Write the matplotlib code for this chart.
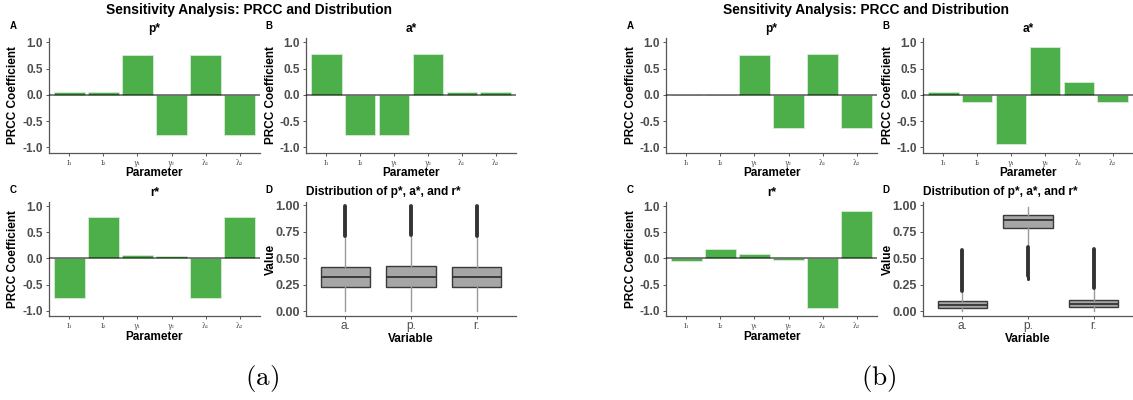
import matplotlib
matplotlib.use("Agg")
import matplotlib.pyplot as plt

plt.rcParams["font.family"] = ["Liberation Sans", "DejaVu Sans"]
plt.rcParams["mathtext.fontset"] = "cm"

# ---------------- data ----------------
params = ["I\u2081", "I\u2082", "\u03b3\u2081", "\u03b3\u2082", "\u03bb\u2081", "\u03bb\u2082"]
variables = ["a.", "p.", "r."]

# PRCC coefficients, scenario (a)
prcc_a_p = [0.06, 0.05, 0.77, -0.77, 0.77, -0.77]
prcc_a_a = [0.78, -0.77, -0.77, 0.78, 0.06, 0.06]
prcc_a_r = [-0.76, 0.79, 0.06, 0.05, -0.76, 0.79]

# PRCC coefficients, scenario (b)
prcc_b_p = [0.004, 0.003, 0.76, -0.63, 0.78, -0.63]
prcc_b_a = [0.06, -0.13, -0.94, 0.91, 0.25, -0.13]
prcc_b_r = [-0.04, 0.18, 0.08, -0.03, -0.95, 0.92]

# Box summaries of a*, p*, r* (order: a., p., r.), scenario (a)
dist_a_whislo = [0.0, 0.0, 0.0]
dist_a_q1 = [0.226, 0.227, 0.226]
dist_a_med = [0.318, 0.320, 0.319]
dist_a_q3 = [0.419, 0.421, 0.420]
dist_a_whishi = [0.707, 0.711, 0.709]
dist_a_out_lo = [0.712, 0.715, 0.713]
dist_a_out_hi = [0.995, 0.990, 0.992]

# Box summaries, scenario (b)
dist_b_whislo = [0.002, 0.605, 0.003]
dist_b_q1 = [0.031, 0.786, 0.034]
dist_b_med = [0.056, 0.863, 0.062]
dist_b_q3 = [0.093, 0.907, 0.106]
dist_b_whishi = [0.185, 0.985, 0.212]
dist_b_out_lo = [0.190, 0.330, 0.216]
dist_b_out_hi = [0.575, 0.603, 0.590]
dist_b_sparse = [[], [0.300, 0.308, 0.316, 0.322], []]

# ---------------- styling ----------------
W, H = 1133, 400
GREEN = "#4DAF4A"
GREY_TXT = "#4D4D4D"
AX_COL = "#555555"

fig = plt.figure(figsize=(W / 100, H / 100), dpi=100)


def add_ax(x0, y0, x1, y1):
    return fig.add_axes([x0 / W, 1 - y1 / H, (x1 - x0) / W, (y1 - y0) / H])


def style_axes(ax):
    for s in ("top", "right"):
        ax.spines[s].set_visible(False)
    for s in ("left", "bottom"):
        ax.spines[s].set_color(AX_COL)
        ax.spines[s].set_linewidth(0.9)
    ax.tick_params(axis="both", length=2.5, width=0.7, color=AX_COL, pad=2)


def place_labels(ax, box, xlabel, ylabel, ylab_x, xlab_y):
    x0, y0, x1, y1 = box
    ax.set_xlabel(xlabel, fontsize=8.5, fontweight="bold", va="center")
    ax.xaxis.set_label_coords(0.5, (y1 - xlab_y) / (y1 - y0))
    ax.set_ylabel(ylabel, fontsize=8.5, fontweight="bold", va="center")
    ax.yaxis.set_label_coords((ylab_x - x0) / (x1 - x0), 0.5)


def prcc_panel(box, values, title, tag, tag_xy, ylab_x, xlab_y):
    ax = add_ax(*box)
    style_axes(ax)
    pos = list(range(len(params)))
    ax.bar(pos, values, width=0.9, color=GREEN, edgecolor="#d5ecd4", linewidth=0.6, zorder=2)
    ax.axhline(0, color="black", alpha=0.55, linewidth=1.3, zorder=3)
    ax.set_xlim(-0.6, len(params) - 0.4)
    ax.set_ylim(-1.105, 1.085)
    ax.set_yticks([-1.0, -0.5, 0.0, 0.5, 1.0])
    ax.set_yticklabels(["-1.0", "-0.5", "0.0", "0.5", "1.0"])
    ax.set_xticks(pos)
    ax.set_xticklabels(params, fontfamily="DejaVu Serif", fontsize=5, color=GREY_TXT)
    for t in ax.get_yticklabels():
        t.set_fontsize(8.5)
        t.set_fontweight("bold")
        t.set_color(GREY_TXT)
    x0, y0, x1, y1 = box
    fig.text((x0 + x1) / 2 / W, 1 - (y0 - 9) / H, title, ha="center", va="center",
             fontsize=8.6, fontweight="bold")
    fig.text(tag_xy[0] / W, 1 - tag_xy[1] / H, tag, ha="center", va="center",
             fontsize=7, fontweight="bold")
    place_labels(ax, box, "Parameter", "PRCC Coefficient", ylab_x, xlab_y)
    return ax


def dist_panel(box, whislo, q1, med, q3, whishi, out_lo, out_hi, sparse, tag, tag_xy,
               ylab_x, xlab_y):
    ax = add_ax(*box)
    style_axes(ax)
    stats = []
    for i, name in enumerate(variables):
        stats.append(dict(label=name, whislo=whislo[i], q1=q1[i], med=med[i],
                          q3=q3[i], whishi=whishi[i], fliers=[]))
    pos = list(range(len(variables)))
    ax.bxp(stats, positions=pos, widths=0.75, patch_artist=True, showcaps=False,
           showfliers=False,
           boxprops=dict(facecolor="#A6A6A6", edgecolor="#3a3a3a", linewidth=1.0),
           medianprops=dict(color="#333333", linewidth=1.3),
           whiskerprops=dict(color="#9a9a9a", linewidth=1.0))
    # dense runs of outlying points
    for i in pos:
        ax.plot([i, i], [out_lo[i], out_hi[i]], color="#333333", linewidth=2.8,
                solid_capstyle="round", zorder=3)
        if sparse[i]:
            ax.plot([i] * len(sparse[i]), sparse[i], "o", color="#333333",
                    markersize=2.2, markeredgewidth=0, zorder=3)
    ax.set_xlim(-0.6, len(variables) - 0.4)
    ax.set_ylim(-0.047, 1.03)
    ax.set_yticks([0.0, 0.25, 0.5, 0.75, 1.0])
    ax.set_yticklabels(["0.00", "0.25", "0.50", "0.75", "1.00"])
    ax.set_xticks(pos)
    ax.set_xticklabels(variables, fontsize=8.6, color=GREY_TXT)
    ax.tick_params(axis="x", pad=0.5)
    for t in ax.get_yticklabels():
        t.set_fontsize(9)
        t.set_fontweight("bold")
        t.set_color(GREY_TXT)
    x0, y0, x1, y1 = box
    fig.text(x0 / W, 1 - (y0 - 10) / H, "Distribution of p*, a*, and r*", ha="left",
             va="center", fontsize=8.6, fontweight="bold")
    fig.text(tag_xy[0] / W, 1 - tag_xy[1] / H, tag, ha="center", va="center",
             fontsize=7, fontweight="bold")
    place_labels(ax, box, "Variable", "Value", ylab_x, xlab_y)
    return ax


def composite(dx, vp, va_, vr, dist, label):
    prcc_panel((49 + dx, 38, 260 + dx, 153), vp, "p*", "A", (13 + dx, 26), 13.5 + dx, 172.5)
    prcc_panel((306 + dx, 38, 516 + dx, 153), va_, "a*", "B", (269 + dx, 26), 271 + dx, 172.5)
    prcc_panel((49 + dx, 202, 260 + dx, 316), vr, "r*", "C", (13 + dx, 190), 13.5 + dx, 336.5)
    dist_panel((306 + dx, 202, 516 + dx, 316), *dist, "D", (269 + dx, 190), 271 + dx, 338.5)
    fig.text((249 + dx) / W, 1 - 10 / H, "Sensitivity Analysis: PRCC and Distribution",
             ha="center", va="center", fontsize=9.9, fontweight="bold")
    fig.text((262 + dx) / W, 1 - 378 / H, label, ha="center", va="center", fontsize=19.5)


composite(0, prcc_a_p, prcc_a_a, prcc_a_r,
          (dist_a_whislo, dist_a_q1, dist_a_med, dist_a_q3, dist_a_whishi,
           dist_a_out_lo, dist_a_out_hi, [[], [], []]),
          r"$\mathrm{(a)}$")
composite(617, prcc_b_p, prcc_b_a, prcc_b_r,
          (dist_b_whislo, dist_b_q1, dist_b_med, dist_b_q3, dist_b_whishi,
           dist_b_out_lo, dist_b_out_hi, dist_b_sparse),
          r"$\mathrm{(b)}$")

fig.savefig("out.png", dpi=100)
